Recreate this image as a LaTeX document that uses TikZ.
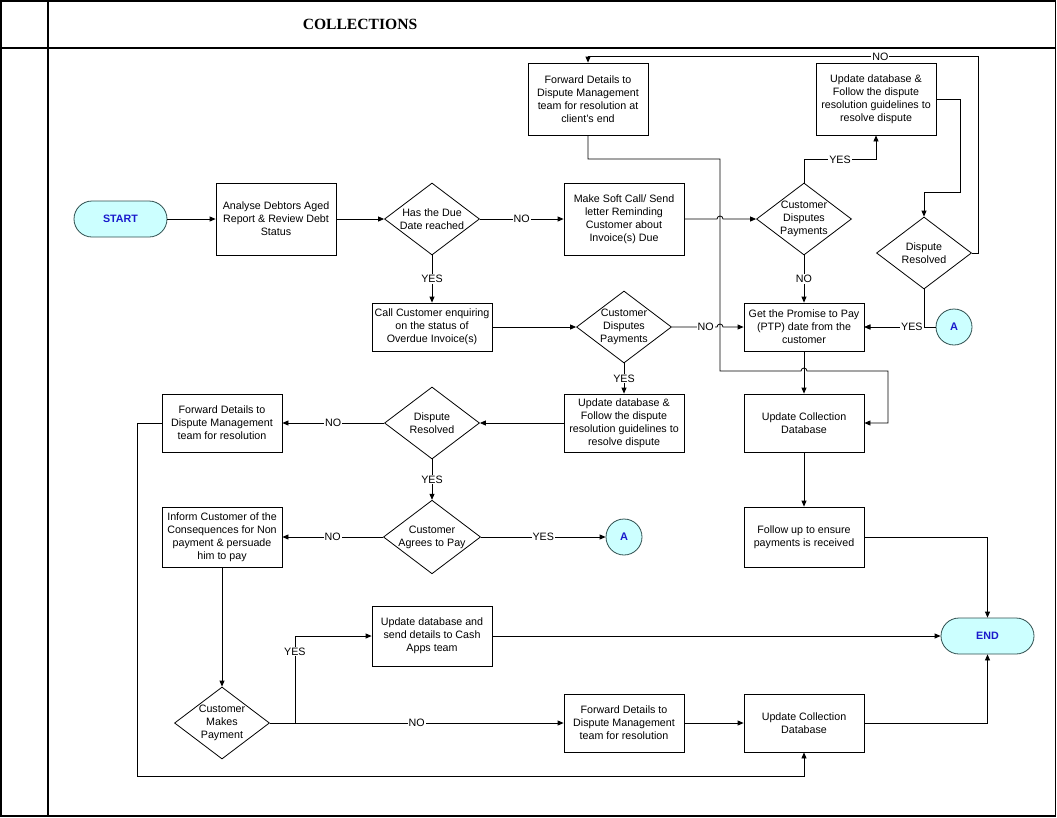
\documentclass[tikz,border=0pt]{standalone}
\usepackage{fontspec}
\setmainfont{Liberation Sans}
\newfontfamily\titlefont{Liberation Serif}
\usetikzlibrary{calc,shapes.geometric,arrows.meta}
\definecolor{termfill}{HTML}{CCFFFF}
\definecolor{termline}{HTML}{2F4F4F}
\definecolor{termtext}{HTML}{1A1ACC}
\tikzset{
	box/.style={draw, minimum width=120pt, align=center, inner sep=2pt},
	dec/.style={draw, diamond, aspect=1.32, minimum width=95pt, minimum height=72pt, inner sep=0pt, align=center},
	term/.style={draw=termline, fill=termfill, rounded corners=18pt, minimum width=93pt, minimum height=36pt, text=termtext, font=\fontsize{10.7}{13}\selectfont\bfseries},
	conn/.style={draw=termline, fill=termfill, circle, minimum size=36pt, inner sep=0pt, text=termtext, font=\fontsize{11}{13}\selectfont\bfseries},
	lbl/.style={fill=white, inner sep=1pt},
	arr/.style={-{Triangle[length=6pt,width=5pt]}}
}

\begin{document}
\begin{tikzpicture}[x=1pt, y=-1pt, line width=0.8pt, font=\fontsize{10.7}{13}\selectfont]
	\useasboundingbox (0,0) rectangle (1057,817);
	\draw[line width=1.2pt] (1,1) rectangle (1055.5,816);
	\draw[line width=1.2pt] (48,1)--(48,816) (1,48)--(1055.5,48);
	\node[font=\titlefont\bfseries\fontsize{15.6}{18}\selectfont] (title) at (360,24) {COLLECTIONS};

	\node[term] (start) at (120.5,219) {START};
	\node[box, minimum height=72pt] (analyse) at (276,219) {Analyse Debtors Aged\\Report \& Review Debt\\Status};
	\node[dec] (due) at (432,219) {Has the Due\\Date reached};
	\node[box, minimum height=72pt] (soft) at (624,219) {Make Soft Call/ Send\\letter Reminding\\Customer about\\Invoice(s) Due};
	\node[dec] (disp1) at (804,219) {Customer\\Disputes\\Payments};
	\node[box, minimum height=72pt] (fwdc) at (588,99) {Forward Details to\\Dispute Management\\team for resolution at\\client's end};
	\node[box, minimum height=72pt] (updr) at (876,99) {Update database \&\\Follow the dispute\\resolution guidelines to\\resolve dispute};
	\node[dec] (resr) at (924,253) {Dispute\\Resolved};
	\node[conn] (aR) at (954,327) {A};
	\node[box, minimum height=48pt] (ptp) at (804,327) {Get the Promise to Pay\\(PTP) date from the\\customer};
	\node[box, minimum height=48pt] (call) at (432,327) {Call Customer enquiring\\on the status of\\Overdue Invoice(s)};
	\node[dec] (disp2) at (624,327) {Customer\\Disputes\\Payments};
	\node[box, minimum height=58pt] (updm) at (624,423) {Update database \&\\Follow the dispute\\resolution guidelines to\\resolve dispute};
	\node[dec] (resm) at (432,423) {Dispute\\Resolved};
	\node[box, minimum height=58pt] (fwdl) at (222,423) {Forward Details to\\Dispute Management\\team for resolution};
	\node[box, minimum height=58pt] (ucd) at (804,423) {Update Collection\\Database};
	\node[box, minimum height=60pt] (follow) at (804,537) {Follow up to ensure\\payments is received};
	\node[dec] (agree) at (432,537) {Customer\\Agrees to Pay};
	\node[conn] (aL) at (624,537) {A};
	\node[box, minimum height=60pt] (inform) at (222,537) {Inform Customer of the\\Consequences for Non\\payment \& persuade\\him to pay};
	\node[term] (finish) at (987.5,636) {END};
	\node[box, minimum height=60pt] (cash) at (432,636) {Update database and\\send details to Cash\\Apps team};
	\node[dec] (makes) at (222,723) {Customer\\Makes\\Payment};
	\node[box, minimum height=58pt] (fwdb) at (624,723) {Forward Details to\\Dispute Management\\team for resolution};
	\node[box, minimum height=58pt] (ucdb) at (804,723) {Update Collection\\Database};

	\coordinate (cx) at (720,159);
	\coordinate (cy) at (888,371);

	\draw[arr] (start) -- (analyse);
	\draw[arr] (analyse) -- (due);
	\draw[arr] (due) -- node[lbl]{NO} (soft);
	\draw[arr] (due) -- node[lbl]{YES} (call);
	\draw[arr] (soft) -- ($(soft.east -| cx)+(-3,0)$) arc[start angle=180, end angle=0, radius=3pt] -- (disp1);
	\draw[arr] (disp1.north) |- node[lbl, pos=.75]{YES} ($(updr.south)+(0,24)$) -- (updr.south);
	\draw[arr] (disp1) -- node[lbl]{NO} (ptp);
	\draw[arr] (updr.east) -- ++(24,0) |- ($(resr.north)+(0,-24)$) -- (resr.north);
	\draw[arr] (resr.east) -- ++(6,0) |- node[lbl, pos=.625]{NO} ($(fwdc.north)+(0,-6)$) -- (fwdc.north);
	\draw[arr] (aR) -- (ptp);
	\draw[arr] (resr.south) |- node[lbl, pos=.5, left]{YES} (ptp.east);
	\draw[arr] (call) -- (disp2);
	\draw[arr] (disp2) -- node[lbl, pos=.75]{NO} ($(disp2.east -| cx)+(-3,0)$) arc[start angle=180, end angle=0, radius=3pt] -- (ptp);
	\draw[arr] (disp2) -- node[lbl]{YES} (updm);
	\draw[arr] (fwdc.south) |- (cx) |- ($(ptp.south |- cy)+(-3,0)$) arc[start angle=180, end angle=0, radius=3pt] -- (cy) |- (ucd.east);
	\draw[arr] (ptp) -- (ucd);
	\draw[arr] (updm) -- (resm);
	\draw[arr] (resm) -- node[lbl]{NO} (fwdl);
	\draw[arr] (resm) -- node[lbl]{YES} (agree);
	\draw[arr] (agree) -- node[lbl]{NO} (inform);
	\draw[arr] (agree) -- node[lbl]{YES} (aL);
	\draw[arr] (inform) -- (makes);
	\draw[arr] (makes.east) -- ++(25,0) |- node[lbl, pos=.41]{YES} (cash);
	\draw[arr] (makes) -- node[lbl]{NO} (fwdb);
	\draw[arr] (cash) -- (finish);
	\draw[arr] (fwdb) -- (ucdb);
	\draw[arr] (ucdb) -| (finish);
	\draw[arr] (ucd) -- (follow);
	\draw[arr] (follow) -| (finish);
	\draw[arr] (fwdl.west) -- ++(-24,0) |- ($(ucdb.south)+(0,24)$) -- (ucdb.south);
\end{tikzpicture}
\end{document}
